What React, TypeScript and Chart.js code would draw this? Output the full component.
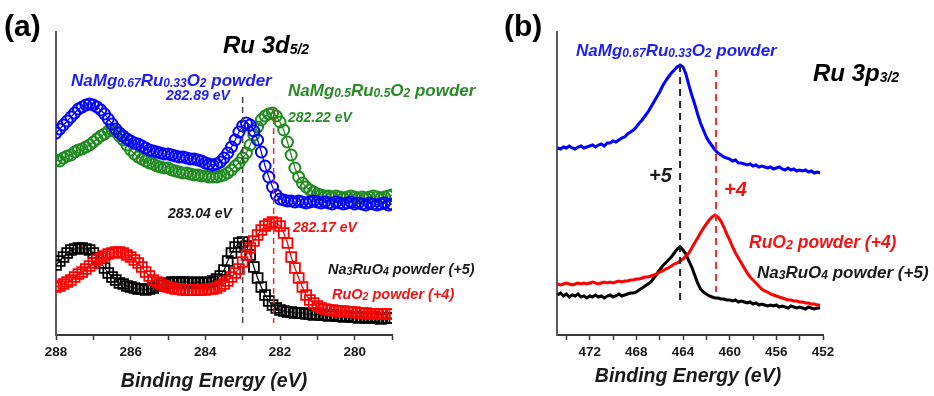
import React, { useEffect, useRef } from "react";
import { Chart, registerables } from "chart.js";

Chart.register(...registerables);

// ---------- Panel (a): Ru 3d5/2, energy grid 288 -> 279 eV, step 0.1 eV ----------
const EA_START = 288;
const EA_STEP = 0.1;
const blueA = [
  202, 206, 210, 214, 218, 222, 226, 228, 230, 231,
  230, 228, 225, 221, 216, 211, 206, 202, 199, 196,
  194, 192, 191, 189, 187, 185, 184, 183, 182, 181,
  181, 180, 179, 178, 178, 177, 176, 176, 175, 174,
  172, 171, 170, 171, 173, 177, 182, 188, 195, 203,
  209, 212, 210, 204, 195, 183, 169, 158, 148, 140,
  136, 135, 134, 134, 133, 134, 133, 132, 133, 134,
  133, 132, 133, 132, 131, 133, 132, 131, 132, 133,
  131, 132, 131, 130, 132, 131, 130, 131, 132, 130,
  131,
];
const greenA = [
  175, 174, 177, 179, 180, 183, 185, 186, 188, 190,
  193, 196, 199, 201, 204, 205, 203, 199, 195, 190,
  185, 181, 178, 176, 174, 172, 171, 169, 168, 167,
  167, 165, 164, 163, 162, 162, 161, 160, 160, 159,
  159, 158, 158, 158, 159, 160, 162, 165, 169, 172,
  177, 182, 190, 200, 208, 215, 219, 221, 222, 219,
  213, 205, 193, 180, 167, 158, 152, 148, 145, 143,
  141, 140, 139, 139, 138, 139, 138, 137, 138, 139,
  138, 137, 138, 137, 138, 139, 138, 137, 138, 139,
  140,
];
const blackA = [
  70, 74, 78, 82, 85, 86, 87, 87, 86, 85,
  82, 77, 72, 67, 62, 58, 55, 52, 51, 49,
  48, 47, 46, 46, 45, 46, 47, 49, 50, 51,
  52, 53, 53, 52, 53, 53, 52, 52, 53, 52,
  52, 53, 54, 56, 59, 65, 74, 82, 88, 92,
  93, 89, 80, 68, 57, 48, 40, 34, 30, 27,
  25, 24, 23, 23, 22, 22, 22, 21, 21, 20,
  21, 20, 20, 19, 20, 19, 19, 18, 19, 18,
  18, 17, 18, 17, 17, 18, 17, 16, 17, 17,
  17,
];
const redA = [
  48, 49, 51, 53, 55, 58, 61, 63, 66, 69,
  72, 75, 77, 79, 81, 82, 83, 83, 82, 80,
  78, 75, 72, 68, 63, 59, 55, 53, 51, 49,
  48, 47, 46, 46, 45, 45, 45, 45, 45, 45,
  45, 46, 46, 47, 49, 51, 54, 58, 62, 66,
  73, 80, 87, 94, 100, 105, 109, 111, 113, 112,
  109, 102, 92, 78, 67, 57, 48, 40, 35, 32,
  29, 27, 26, 25, 25, 24, 24, 24, 23, 23,
  23, 22, 22, 22, 21, 21, 21, 21, 21, 21,
  21,
];
const peaksA = { na3ruo4: 283.0, ruo2: 282.17 };

// ---------- Panel (b): Ru 3p3/2, energy grid 474.75 -> 452.25 eV, step 0.25 eV ----------
const EB_START = 474.75;
const EB_STEP = 0.25;
const blueB = [
  187, 186, 188, 187, 189, 187, 186, 188, 189, 187,
  188, 189, 190, 188, 190, 191, 189, 192, 192, 194,
  193, 195, 197, 198, 201, 203, 205, 208, 212, 215,
  219, 223, 228, 233, 238, 243, 249, 254, 258, 262,
  265, 268, 270, 268, 261, 250, 240, 231, 221, 212,
  205, 198, 193, 189, 185, 182, 180, 178, 177, 176,
  174, 175, 172, 172, 171, 170, 171, 169, 170, 168,
  169, 168, 167, 168, 166, 167, 168, 166, 165, 167,
  165, 166, 164, 165, 164, 165, 163, 164, 162, 163,
  162,
];
const redB = [
  51, 50, 51, 52, 51, 50, 51, 52, 51, 52,
  51, 52, 53, 52, 51, 52, 53, 52, 53, 52,
  53, 54, 53, 54, 54, 55, 55, 56, 56, 57,
  58, 58, 59, 60, 61, 63, 64, 66, 67, 69,
  71, 72, 74, 76, 79, 82, 87, 92, 97, 102,
  107, 111, 115, 118, 120, 118, 114, 108, 101, 95,
  88, 82, 77, 72, 67, 62, 58, 55, 52, 49,
  46, 44, 43, 41, 40, 39, 38, 37, 36, 35,
  35, 34, 34, 33, 33, 32, 32, 31, 31, 30,
  30,
];
const blackB = [
  40, 42, 39, 41, 38, 40, 39, 41, 38, 39,
  37, 39, 38, 40, 38, 39, 37, 39, 40, 38,
  39, 41, 39, 40, 41, 42, 42, 43, 45, 47,
  49, 51, 53, 57, 61, 65, 69, 72, 75, 78,
  82, 86, 88, 85, 81, 74, 68, 60, 52, 46,
  43, 41, 39, 38, 37, 37, 36, 36, 35, 35,
  34, 35, 33, 34, 33, 32, 33, 31, 32, 30,
  31, 30, 29, 30, 29, 30, 28, 29, 28, 27,
  29, 28, 27, 28, 27, 26, 28, 27, 26, 27,
  27,
];
const peaksB = { plus5: 464.25, plus4: 461.17 };

const energyA = blueA.map((_, i) => +(EA_START - i * EA_STEP).toFixed(2));
const energyB = blueB.map((_, i) => +(EB_START - i * EB_STEP).toFixed(2));

const FONT = 'Arial, "Liberation Sans", sans-serif';
const BLUE = "#0000ff";
const GREEN = "#1f8a1f";
const RED = "#ff0000";
const BLACK = "#000000";
const T_BLUE = "#1f1fee";
const T_GREEN = "#2a8a2a";
const T_RED = "#f01414";
const T_BLACK = "#1a1a1a";

type Label = {
  text: string;
  x: number;
  y: number;
  size: number;
  sub?: number;
  color: string;
  italic?: boolean;
  align?: "left" | "center";
};

function parse(text: string) {
  const parts: { t: string; sub: boolean }[] = [];
  const re = /_\{([^}]*)\}/g;
  let last = 0;
  let m: RegExpExecArray | null;
  while ((m = re.exec(text))) {
    if (m.index > last) parts.push({ t: text.slice(last, m.index), sub: false });
    parts.push({ t: m[1], sub: true });
    last = m.index + m[0].length;
  }
  if (last < text.length) parts.push({ t: text.slice(last), sub: false });
  return parts;
}

function drawLabel(ctx: CanvasRenderingContext2D, l: Label) {
  const parts = parse(l.text);
  const style = l.italic === false ? "bold" : "italic bold";
  const sub = l.sub ?? Math.round(l.size * 0.7);
  const fontOf = (p: { sub: boolean }) => `${style} ${p.sub ? sub : l.size}px ${FONT}`;
  let total = 0;
  for (const p of parts) {
    ctx.font = fontOf(p);
    total += ctx.measureText(p.t).width;
  }
  let cx = l.align === "center" ? l.x - total / 2 : l.x;
  const base = l.y + l.size * 0.36;
  ctx.fillStyle = l.color;
  ctx.textBaseline = "alphabetic";
  ctx.textAlign = "left";
  for (const p of parts) {
    ctx.font = fontOf(p);
    ctx.fillText(p.t, cx, p.sub ? base + 1 : base);
    cx += ctx.measureText(p.t).width;
  }
}

type VLine = { x: number; y0: number; y1: number; color: string; width: number; dash: number[] };

function annotPlugin(lines: VLine[], labels: Label[]) {
  return {
    id: "annot",
    afterDatasetsDraw(chart: any) {
      const { ctx, scales } = chart;
      ctx.save();
      for (const l of lines) {
        const px = scales.x.getPixelForValue(l.x);
        ctx.beginPath();
        ctx.strokeStyle = l.color;
        ctx.lineWidth = l.width;
        ctx.setLineDash(l.dash);
        ctx.moveTo(px, scales.y.getPixelForValue(l.y0));
        ctx.lineTo(px, scales.y.getPixelForValue(l.y1));
        ctx.stroke();
      }
      ctx.restore();
    },
    afterDraw(chart: any) {
      const { ctx } = chart;
      ctx.save();
      for (const l of labels) drawLabel(ctx, l);
      ctx.restore();
    },
  };
}

function baseOptions(min: number, max: number, step: number, labelEvery: number, padRight: number, yWidth: number) {
  return {
    animation: false,
    responsive: false,
    maintainAspectRatio: false,
    events: [],
    layout: { padding: { left: 0, top: 32, right: padRight, bottom: 0 } },
    plugins: { legend: { display: false }, tooltip: { enabled: false }, title: { display: false } },
    scales: {
      x: {
        type: "linear",
        min,
        max,
        reverse: true,
        afterFit: (s: any) => {
          s.height = 61;
        },
        border: { display: true, color: "#3a3a3a", width: 2 },
        grid: {
          display: true,
          drawOnChartArea: false,
          drawTicks: true,
          tickLength: 5,
          tickColor: "#3a3a3a",
          tickWidth: 1.5,
        },
        ticks: {
          stepSize: step,
          autoSkip: false,
          includeBounds: false,
          maxRotation: 0,
          padding: 4,
          color: "#1a1a1a",
          font: { family: FONT, weight: "bold", size: 13.5 },
          callback: (v: number) => (Math.round(v) % labelEvery === 0 ? String(Math.round(v)) : ""),
        },
      },
      y: {
        min: 0,
        max: 303,
        afterFit: (s: any) => {
          s.width = yWidth;
        },
        border: { display: true, color: "#5a5a5a", width: 2 },
        grid: { display: false },
        ticks: { display: false },
      },
    },
  };
}

function PanelA() {
  const ref = useRef<HTMLCanvasElement>(null);
  useEffect(() => {
    if (!ref.current) return;
    const mk = (vals: number[]) => energyA.map((e, i) => ({ x: e, y: vals[i] }));
    const marker = (color: string, style: string, r: number, bw: number) => ({
      borderColor: color,
      borderWidth: 1.2,
      pointStyle: style,
      pointRadius: r,
      pointBorderWidth: bw,
      pointBorderColor: color,
      pointBackgroundColor: "rgba(255,255,255,0)",
      showLine: true,
      tension: 0,
    });
    const lines: VLine[] = [
      { x: peaksA.na3ruo4, y0: 238, y1: 12, color: "#444444", width: 1.5, dash: [6, 4] },
      { x: peaksA.ruo2, y0: 227, y1: 12, color: "#e03030", width: 1.5, dash: [6, 4] },
    ];
    const labels: Label[] = [
      { text: "(a)", x: 4, y: 25, size: 30, color: BLACK, italic: false },
      { text: "Ru 3d_{5/2}", x: 223, y: 44, size: 24, sub: 14, color: BLACK },
      { text: "NaMg_{0.67}Ru_{0.33}O_{2} powder", x: 71, y: 80, size: 17, sub: 12, color: T_BLUE },
      { text: "282.89 eV", x: 166, y: 95, size: 14, color: T_BLUE },
      { text: "NaMg_{0.5}Ru_{0.5}O_{2} powder", x: 288, y: 90, size: 17, sub: 12, color: T_GREEN },
      { text: "282.22 eV", x: 288, y: 117, size: 14, color: T_GREEN },
      { text: "283.04 eV", x: 168, y: 213, size: 14, color: T_BLACK },
      { text: "282.17 eV", x: 293, y: 227, size: 14, color: T_RED },
      { text: "Na_{3}RuO_{4} powder (+5)", x: 328, y: 269, size: 14.5, sub: 10.5, color: T_BLACK },
      { text: "RuO_{2} powder (+4)", x: 332, y: 294, size: 14.5, sub: 10.5, color: T_RED },
      { text: "Binding Energy (eV)", x: 214, y: 380, size: 19.5, color: T_BLACK, align: "center" },
    ];
    const chart = new Chart(ref.current, {
      type: "line",
      data: {
        datasets: [
          { label: "NaMg0.67Ru0.33O2", data: mk(blueA), ...marker(BLUE, "circle", 5.5, 2) },
          { label: "NaMg0.5Ru0.5O2", data: mk(greenA), ...marker(GREEN, "circle", 5.5, 2) },
          { label: "RuO2", data: mk(redA), ...marker(RED, "rect", 7, 1.8) },
          { label: "Na3RuO4", data: mk(blackA), ...marker(BLACK, "rect", 7, 1.8) },
        ],
      },
      options: baseOptions(279, 288, 1, 2, 108, 56) as any,
      plugins: [annotPlugin(lines, labels)],
    } as any);
    return () => chart.destroy();
  }, []);
  return (
    <canvas
      ref={ref}
      width={500}
      height={396}
      style={{ position: "absolute", left: 0, top: 0, width: 500, height: 396 }}
    />
  );
}

function PanelB() {
  const ref = useRef<HTMLCanvasElement>(null);
  useEffect(() => {
    if (!ref.current) return;
    const mk = (vals: number[]) => energyB.map((e, i) => ({ x: e, y: vals[i] }));
    const line = (color: string) => ({
      borderColor: color,
      borderWidth: 3,
      pointRadius: 0,
      showLine: true,
      tension: 0,
    });
    const lines: VLine[] = [
      { x: peaksB.plus5, y0: 270, y1: 35, color: "#222222", width: 2, dash: [7, 5] },
      { x: peaksB.plus4, y0: 265, y1: 43, color: "#e83030", width: 2, dash: [7, 5] },
    ];
    const labels: Label[] = [
      { text: "(b)", x: 4, y: 25, size: 30, color: BLACK, italic: false },
      { text: "NaMg_{0.67}Ru_{0.33}O_{2} powder", x: 76, y: 50, size: 17, sub: 12, color: T_BLUE },
      { text: "Ru 3p_{3/2}", x: 313, y: 72, size: 24, sub: 14, color: BLACK },
      { text: "+5", x: 149, y: 175, size: 20, color: T_BLACK },
      { text: "+4", x: 224, y: 189, size: 20, color: T_RED },
      { text: "RuO_{2} powder (+4)", x: 249, y: 242, size: 17.5, sub: 12.5, color: T_RED },
      { text: "Na_{3}RuO_{4} powder (+5)", x: 257, y: 272, size: 17, sub: 12, color: T_BLACK },
      { text: "Binding Energy (eV)", x: 188, y: 375, size: 19.5, color: T_BLACK, align: "center" },
    ];
    const chart = new Chart(ref.current, {
      type: "line",
      data: {
        datasets: [
          { label: "NaMg0.67Ru0.33O2", data: mk(blueB), ...line(BLUE) },
          { label: "RuO2", data: mk(redB), ...line(RED) },
          { label: "Na3RuO4", data: mk(blackB), ...line(BLACK) },
        ],
      },
      options: baseOptions(452, 474.8, 2, 4, 111, 57) as any,
      plugins: [annotPlugin(lines, labels)],
    } as any);
    return () => chart.destroy();
  }, []);
  return (
    <canvas
      ref={ref}
      width={434}
      height={396}
      style={{ position: "absolute", left: 500, top: 0, width: 434, height: 396 }}
    />
  );
}

export default function App() {
  return (
    <div style={{ position: "absolute", left: 0, top: 0, width: 934, height: 396, background: "#ffffff", overflow: "hidden" }}>
      <PanelA />
      <PanelB />
    </div>
  );
}
